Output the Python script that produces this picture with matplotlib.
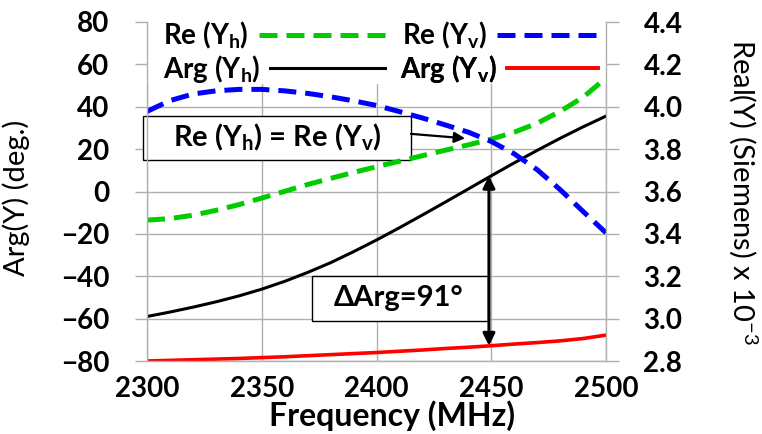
import matplotlib
matplotlib.use("Agg")
import matplotlib.pyplot as plt
from matplotlib.patches import Rectangle
from matplotlib.font_manager import FontProperties

plt.rcParams['font.family'] = ['Lato', 'DejaVu Sans']
plt.rcParams['mathtext.fontset'] = 'custom'
plt.rcParams['mathtext.rm'] = 'Lato'
plt.rcParams['mathtext.bf'] = 'Lato:bold'
plt.rcParams['mathtext.it'] = 'Lato:italic'
plt.rcParams['mathtext.default'] = 'bf'

# frequency in MHz
freq = [2300, 2310, 2320, 2330, 2340, 2350, 2360, 2370, 2380, 2390, 2400,
        2410, 2420, 2430, 2440, 2450, 2460, 2470, 2480, 2490, 2500]
# phase of admittance (deg.)
arg_yh = [-59.0, -56.9, -54.6, -52.1, -49.3, -46.1, -42.4, -38.2, -33.6, -28.4, -22.9,
          -17.1, -11.1, -5.0, 1.2, 7.4, 13.5, 19.4, 25.1, 30.5, 35.6]
arg_yv = [-80.0, -79.7, -79.4, -79.1, -78.8, -78.4, -78.0, -77.5, -77.0, -76.5, -76.0,
          -75.4, -74.8, -74.1, -73.5, -72.8, -72.0, -71.3, -70.5, -69.4, -67.8]
# real part of admittance (Siemens x 1e-3)
re_yh = [3.465, 3.472, 3.488, 3.511, 3.538, 3.569, 3.601, 3.633, 3.662, 3.690, 3.717,
         3.743, 3.769, 3.795, 3.820, 3.847, 3.880, 3.922, 3.978, 4.045, 4.135]
re_yv = [3.978, 4.029, 4.060, 4.075, 4.082, 4.082, 4.075, 4.063, 4.047, 4.028, 4.006,
         3.977, 3.947, 3.914, 3.880, 3.836, 3.778, 3.703, 3.609, 3.506, 3.405]

xticks = [2300, 2350, 2400, 2450, 2500]
arg_ticks = [-80, -60, -40, -20, 0, 20, 40, 60, 80]
re_ticks = [2.8, 3.0, 3.2, 3.4, 3.6, 3.8, 4.0, 4.2, 4.4]

gray = '#b0b0b0'
W, H = 762, 434
ax_l, ax_r, ax_t, ax_b = 147, 606, 22, 361

fig = plt.figure(figsize=(W / 100, H / 100), dpi=100)
ax1 = fig.add_axes([ax_l / W, 1 - ax_b / H, (ax_r - ax_l) / W, (ax_b - ax_t) / H])
ax2 = ax1.twinx()

l_ah, = ax1.plot(freq, arg_yh, color='black', lw=2.2, label=r'Arg (Y$_h$)', zorder=3)
l_av, = ax1.plot(freq, arg_yv, color='#ff0000', lw=2.6, label=r'Arg (Y$_v$)', zorder=3)
l_rh, = ax2.plot(freq, re_yh, color='#00cc00', lw=3.6, dashes=(3.6, 1.8), label=r'Re (Y$_h$)')
l_rv, = ax2.plot(freq, re_yv, color='#0000ff', lw=3.6, dashes=(3.6, 1.8), label=r'Re (Y$_v$)')

ax1.set_xlim(2300, 2500)
ax1.set_ylim(-80, 80)
ax2.set_ylim(2.8, 4.4)
ax1.set_xticks(xticks)
ax1.set_yticks(arg_ticks)
ax2.set_yticks(re_ticks)
ax2.set_yticklabels(['%.1f' % v for v in re_ticks])

ax1.grid(True, color=gray, lw=1.0)
ax1.set_axisbelow(True)
# white area behind the legend hides the grid there
ax1.add_patch(Rectangle((0, 0.817), 1, 0.2, transform=ax1.transAxes,
                        facecolor='white', edgecolor='none', zorder=1))

for ax in (ax1, ax2):
    for side in ('top', 'bottom', 'left', 'right'):
        ax.spines[side].set_visible(False)
for side in ('left', 'right', 'bottom'):
    ax2.spines[side].set_visible(True)
    ax2.spines[side].set_color(gray)
    ax2.spines[side].set_linewidth(1.0)

ax1.tick_params(axis='y', direction='out', length=9, width=1, color=gray, pad=18, labelsize=20)
ax2.tick_params(axis='y', direction='out', length=9, width=1, color=gray, pad=18, labelsize=20)
ax1.tick_params(axis='x', length=0, pad=11, labelsize=20)
for lab in ax1.get_xticklabels() + ax1.get_yticklabels() + ax2.get_yticklabels():
    lab.set_fontweight('bold')

ax1.set_xlabel('Frequency (MHz)', fontsize=23, fontweight='bold')
ax1.xaxis.set_label_coords(0.534, -0.117)
ax1.xaxis.label.set_va('top')
ax1.set_ylabel('Arg(Y) (deg.)', fontsize=21)
ax1.yaxis.set_label_coords(-0.255, 0.48)
ax2.set_ylabel(r'Real(Y) (Siemens) x 10$^{\mathrm{-3}}$', fontsize=21, rotation=-90, va='center')
ax2.yaxis.set_label_coords(1.3, 0.5)

# legend: one entry per box so text starts and line ends sit where the reference has them
leg_size = 20
leg_font = FontProperties(family=['Lato', 'DejaVu Sans'], weight='bold', size=leg_size)
em = leg_size * 100 / 72
pad = 0.36
renderer = fig.canvas.get_renderer()
entries = [(l_rh, 163, 385, 20), (l_rv, 402, 598, 20),
           (l_ah, 163, 385, 53), (l_av, 400, 598, 53)]
for line, x_text, x_end, y_top in entries:
    probe = fig.text(0, 0, line.get_label(), fontproperties=leg_font)
    w = probe.get_window_extent(renderer).width
    probe.remove()
    hl = (x_end - x_text - w) / em - pad
    lg = ax2.legend(handles=[line], loc='upper left',
                    bbox_to_anchor=((x_text - ax_l) / (ax_r - ax_l), (ax_b - y_top) / (ax_b - ax_t)),
                    markerfirst=False, frameon=False, prop=leg_font, handlelength=hl,
                    handletextpad=pad, borderpad=0.0, borderaxespad=0.0)
    ax2.add_artist(lg)

# annotation: crossing of the real parts
i_cross = freq.index(2450)
ax1.add_patch(Rectangle((2298.3, 14.9), 116.7, 20.7, facecolor='white', edgecolor='black',
                        lw=1.0, zorder=7, clip_on=False))
ax1.text(2356.6, 25.3, r'Re (Y$_h$) = Re (Y$_v$)', fontsize=21, fontweight='bold',
         ha='center', va='center', zorder=8)
ax1.annotate('', xy=(2438.6, (re_yh[i_cross] - 3.6) * 100 + 0.4), xytext=(2415, 27.2),
             arrowprops=dict(arrowstyle='-|>', color='black', lw=1.6, mutation_scale=16,
                             shrinkA=0, shrinkB=0), zorder=7)

# annotation: phase difference at 2450 MHz
ax1.add_patch(Rectangle((2371.9, -61.1), 76.7, 21.2, facecolor='white', edgecolor='black',
                        lw=1.0, zorder=7))
ax1.text(2409.8, -50.5, u'\u0394Arg=91\u00b0', fontsize=21, fontweight='bold',
         ha='center', va='center', zorder=8)
ax1.annotate('', xy=(2449, arg_yv[i_cross]), xytext=(2449, arg_yh[i_cross]),
             arrowprops=dict(arrowstyle='<|-|>', color='black', lw=2.2, mutation_scale=18,
                             shrinkA=0, shrinkB=0), zorder=9)

fig.savefig('out.png', dpi=100)
